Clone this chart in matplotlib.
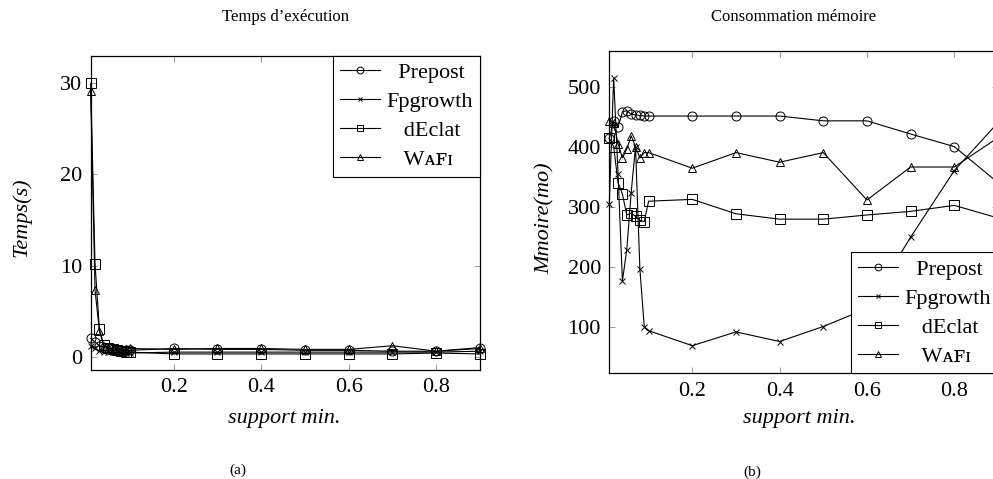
import matplotlib
matplotlib.use("Agg")
import matplotlib.pyplot as plt

plt.rcParams['font.family'] = ['Liberation Serif', 'DejaVu Serif']
plt.rcParams['mathtext.fontset'] = 'stix'

support = [0.01, 0.02, 0.03, 0.04, 0.05, 0.06, 0.07, 0.08, 0.09, 0.1,
           0.2, 0.3, 0.4, 0.5, 0.6, 0.7, 0.8, 0.9]

# (a) temps d'execution, secondes
t_prepost = [2.0, 1.6, 1.2, 1.0, 0.9, 0.8, 0.7, 0.7, 0.7, 0.7, 0.9, 0.8, 0.8, 0.7, 0.7, 0.6, 0.6, 0.9]
t_fpgrowth = [1.2, 0.9, 0.6, 0.5, 0.5, 0.5, 0.5, 0.4, 0.4, 0.4, 0.5, 0.5, 0.5, 0.5, 0.5, 0.5, 0.5, 0.6]
t_declat = [30.0, 10.2, 3.0, 1.3, 1.0, 0.8, 0.7, 0.6, 0.5, 0.5, 0.3, 0.3, 0.3, 0.3, 0.3, 0.3, 0.4, 0.3]
t_wafi = [29.2, 7.3, 2.8, 1.2, 1.0, 0.9, 1.0, 0.8, 0.8, 0.9, 0.8, 0.9, 0.9, 0.8, 0.8, 1.2, 0.6, 1.0]

# (b) memoire, mo
m_prepost = [414, 442, 432, 458, 460, 454, 453, 452, 451, 451, 451, 451, 451, 443, 443, 421, 400, 340]
m_fpgrowth = [305, 515, 355, 176, 228, 323, 400, 196, 100, 93, 68, 91, 75, 100, 130, 249, 360, 440]
m_declat = [414, 400, 340, 321, 286, 289, 284, 277, 275, 309, 312, 288, 279, 279, 286, 292, 302, 281]
m_wafi = [443, 440, 405, 381, 396, 418, 400, 381, 390, 390, 364, 390, 374, 390, 311, 366, 366, 415]

names = ['  Prepost', 'Fpgrowth', '   dEclat', '   W\u1d00\ua730\u026a']
markers = ['o', 'x', 's', '^']
msizes = [6.5, 4.5, 6.5, 6]

fig = plt.figure(figsize=(9.93, 4.79), dpi=100)
ax1 = fig.add_axes([0.0913, 0.2276, 0.392, 0.6555])
ax2 = fig.add_axes([0.6136, 0.2207, 0.3914, 0.6735])


def draw(ax, series, ylim, yticks, legloc):
    for vals, name, mk, ms in zip(series, names, markers, msizes):
        ax.plot(support, vals, color='black', lw=0.8, marker=mk, ms=ms,
                mfc='none', mec='black', mew=0.7, label=name, clip_on=False)
    ax.set_xlim(0.01, 0.9)
    ax.set_ylim(*ylim)
    ax.set_xticks([0.2, 0.4, 0.6, 0.8])
    ax.set_yticks(yticks)
    ax.tick_params(direction='in', length=4.5, width=0.6, color='#888888',
                   top=True, right=True, labelsize=16, pad=6)
    for sp in ax.spines.values():
        sp.set_linewidth(0.9)
    leg = ax.legend(loc=legloc, fontsize=16, frameon=True, fancybox=False,
                    edgecolor='black', framealpha=1, borderaxespad=0,
                    handlelength=1.8, handletextpad=0.3, labelspacing=0.38,
                    borderpad=0.3, markerscale=0.75)
    leg.get_frame().set_linewidth(0.8)


draw(ax1, [t_prepost, t_fpgrowth, t_declat, t_wafi], (-1.46, 33), [0, 10, 20, 30], 'upper right')
draw(ax2, [m_prepost, m_fpgrowth, m_declat, m_wafi], (22, 560), [100, 200, 300, 400, 500], 'lower right')

fig.text(285 / 993, 1 - 17 / 479, 'Temps d\u2019exécution', ha='center', va='center', fontsize=12)
fig.text(794 / 993, 1 - 17 / 479, 'Consommation mémoire', ha='center', va='center', fontsize=12)

fig.text(284 / 993, 1 - 419 / 479, 'support min.', style='italic', ha='center', va='center', fontsize=16)
fig.text(799 / 993, 1 - 419 / 479, 'support min.', style='italic', ha='center', va='center', fontsize=16)

fig.text(22 / 993, 1 - 217 / 479, 'Temps(s)', style='italic', rotation=90, ha='center', va='center', fontsize=16)
fig.text(545 / 993, 1 - 218 / 479, 'Mmoire(mo)', style='italic', rotation=90, ha='center', va='center', fontsize=16)

fig.text(238 / 993, 1 - 470 / 479, '(a)', ha='center', va='center', fontsize=11)
fig.text(752 / 993, 1 - 472 / 479, '(b)', ha='center', va='center', fontsize=11)

fig.savefig('out.png', dpi=100)
